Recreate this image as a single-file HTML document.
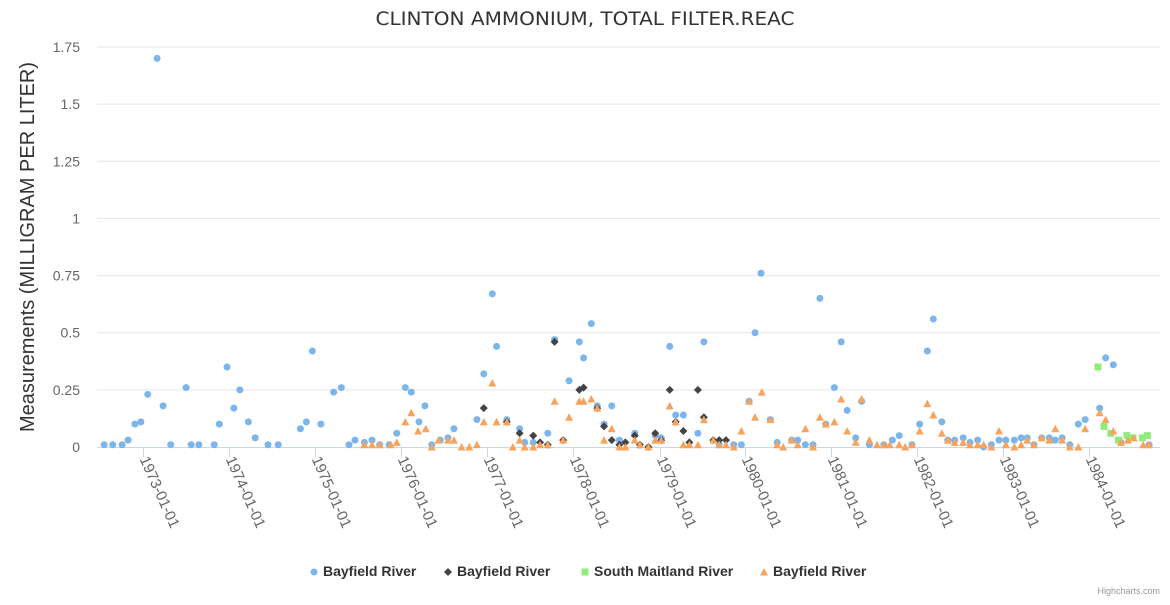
<!DOCTYPE html>
<html><head><meta charset="utf-8"><style>
body{margin:0;background:#fff;font-family:"Liberation Sans",sans-serif}
</style></head><body>
<svg id="c" width="1170" height="600" xmlns="http://www.w3.org/2000/svg" style="font-family:'Liberation Sans',sans-serif">
<text x="585" y="25" text-anchor="middle" font-size="19" fill="#333" textLength="419" lengthAdjust="spacingAndGlyphs" style="font-family:'DejaVu Sans',sans-serif">CLINTON AMMONIUM, TOTAL FILTER.REAC</text>
<text transform="translate(34,247) rotate(-90)" text-anchor="middle" font-size="20" fill="#333">Measurements (MILLIGRAM PER LITER)</text>
<g id="grid"></g>
<g id="xaxis"></g>
<g id="marks"></g>
<g id="legend"></g>
<text x="1160" y="594" text-anchor="end" font-size="9" fill="#999">Highcharts.com</text>
</svg>
<script>
const yTicks=[0,0.25,0.5,0.75,1,1.25,1.5,1.75];
const yTickLabels=["0","0.25","0.5","0.75","1","1.25","1.5","1.75"];
const xTickYears=[1972.96,1973.97,1974.98,1975.99,1977.00,1978.01,1979.02,1980.02,1981.03,1982.04,1983.05,1984.06];
const xTickLabels=["1973-01-01","1974-01-01","1975-01-01","1976-01-01","1977-01-01","1978-01-01","1979-01-01","1980-01-01","1981-01-01","1982-01-01","1983-01-01","1984-01-01"];
const blueYears=[1972.51,1972.61,1972.72,1972.79,1972.87,1972.94,1973.02,1973.13,1973.20,1973.29,1973.47,1973.53,1973.62,1973.80,1973.86,1973.95,1974.03,1974.10,1974.20,1974.28,1974.43,1974.55,1974.81,1974.88,1974.95,1975.05,1975.20,1975.29,1975.38,1975.45,1975.56,1975.65,1975.74,1975.85,1975.94,1976.04,1976.11,1976.20,1976.27,1976.35,1976.45,1976.54,1976.61,1976.88,1976.96,1977.06,1977.11,1977.23,1977.38,1977.44,1977.54,1977.71,1977.79,1977.96,1978.08,1978.13,1978.22,1978.29,1978.37,1978.46,1978.55,1978.73,1978.97,1979.04,1979.14,1979.21,1979.30,1979.47,1979.54,1979.72,1979.89,1979.98,1980.07,1980.14,1980.21,1980.32,1980.40,1980.57,1980.64,1980.73,1980.82,1980.90,1980.97,1981.07,1981.15,1981.22,1981.32,1981.39,1981.48,1981.65,1981.75,1981.83,1981.98,1982.07,1982.16,1982.23,1982.33,1982.40,1982.48,1982.58,1982.66,1982.75,1982.82,1982.91,1983.00,1983.08,1983.18,1983.26,1983.33,1983.41,1983.50,1983.59,1983.66,1983.74,1983.83,1983.93,1984.01,1984.18,1984.25,1984.34,1984.43,1984.76];
const blueValues=[0.01,0.01,0.01,0.03,0.10,0.11,0.23,1.70,0.18,0.01,0.26,0.01,0.01,0.01,0.10,0.35,0.17,0.25,0.11,0.04,0.01,0.01,0.08,0.11,0.42,0.10,0.24,0.26,0.01,0.03,0.02,0.03,0.01,0.01,0.06,0.26,0.24,0.11,0.18,0.01,0.03,0.04,0.08,0.12,0.32,0.67,0.44,0.12,0.08,0.02,0.02,0.06,0.47,0.29,0.46,0.39,0.54,0.18,0.10,0.18,0.03,0.06,0.05,0.04,0.44,0.14,0.14,0.06,0.46,0.01,0.01,0.01,0.20,0.50,0.76,0.12,0.02,0.03,0.03,0.01,0.01,0.65,0.10,0.26,0.46,0.16,0.04,0.20,0.01,0.01,0.03,0.05,0.01,0.10,0.42,0.56,0.11,0.03,0.03,0.04,0.02,0.03,0.00,0.01,0.03,0.03,0.03,0.04,0.04,0.01,0.04,0.04,0.03,0.04,0.01,0.10,0.12,0.17,0.39,0.36,0.02,0.01];
const darkYears=[1976.96,1977.23,1977.38,1977.54,1977.62,1977.71,1977.79,1977.89,1978.08,1978.13,1978.29,1978.37,1978.46,1978.55,1978.62,1978.73,1978.79,1978.89,1978.97,1979.04,1979.14,1979.21,1979.30,1979.37,1979.47,1979.54,1979.65,1979.72,1979.80];
const darkValues=[0.17,0.11,0.06,0.05,0.02,0.01,0.46,0.03,0.25,0.26,0.17,0.09,0.03,0.01,0.02,0.05,0.01,0.00,0.06,0.03,0.25,0.11,0.07,0.02,0.25,0.13,0.03,0.03,0.03];
const greenYears=[1984.16,1984.23,1984.31,1984.40,1984.50,1984.57,1984.68,1984.74];
const greenValues=[0.35,0.09,0.06,0.03,0.05,0.04,0.04,0.05];
const orangeYears=[1975.56,1975.65,1975.74,1975.87,1975.94,1976.04,1976.11,1976.19,1976.28,1976.35,1976.43,1976.54,1976.61,1976.70,1976.79,1976.88,1976.96,1977.06,1977.11,1977.23,1977.30,1977.38,1977.44,1977.54,1977.62,1977.71,1977.79,1977.89,1977.96,1978.08,1978.13,1978.22,1978.29,1978.37,1978.46,1978.55,1978.62,1978.73,1978.79,1978.89,1978.97,1979.04,1979.14,1979.21,1979.30,1979.37,1979.47,1979.54,1979.65,1979.72,1979.80,1979.89,1979.98,1980.07,1980.14,1980.22,1980.32,1980.40,1980.47,1980.57,1980.64,1980.73,1980.82,1980.90,1980.97,1981.07,1981.15,1981.22,1981.32,1981.39,1981.48,1981.57,1981.65,1981.72,1981.83,1981.90,1981.98,1982.07,1982.16,1982.23,1982.33,1982.40,1982.48,1982.58,1982.66,1982.75,1982.82,1982.91,1983.00,1983.08,1983.18,1983.26,1983.33,1983.41,1983.50,1983.59,1983.66,1983.74,1983.83,1983.93,1984.01,1984.18,1984.25,1984.34,1984.43,1984.51,1984.58,1984.69,1984.76];
const orangeValues=[0.01,0.01,0.01,0.01,0.02,0.11,0.15,0.07,0.08,0.00,0.03,0.03,0.03,0.00,0.00,0.01,0.11,0.28,0.11,0.11,0.00,0.03,0.00,0.00,0.01,0.01,0.20,0.03,0.13,0.20,0.20,0.21,0.17,0.03,0.08,0.00,0.00,0.03,0.01,0.00,0.03,0.03,0.18,0.11,0.01,0.01,0.01,0.12,0.03,0.01,0.01,0.00,0.07,0.20,0.13,0.24,0.12,0.01,0.00,0.03,0.01,0.08,0.00,0.13,0.10,0.11,0.21,0.07,0.02,0.21,0.03,0.01,0.01,0.01,0.01,0.00,0.01,0.07,0.19,0.14,0.06,0.03,0.02,0.02,0.01,0.01,0.01,0.00,0.07,0.01,0.00,0.01,0.03,0.01,0.04,0.03,0.08,0.03,0.00,0.00,0.08,0.15,0.12,0.07,0.02,0.03,0.04,0.01,0.01];

const NS="http://www.w3.org/2000/svg";
const L=97,R=1160,T=47,B=447;
const xS=y=>146+(y-1973)*85.3;
const yS=v=>B-(v/1.75)*(B-T);
function mk(tag,parent,attrs){const e=document.createElementNS(NS,tag);for(const k in attrs)e.setAttribute(k,attrs[k]);parent.appendChild(e);return e;}
const grid=document.getElementById('grid'),xa=document.getElementById('xaxis'),marks=document.getElementById('marks'),leg=document.getElementById('legend');
yTicks.forEach((v,i)=>{
  if(v>0){const l=mk('line',grid,{x1:L,x2:R,y1:yS(v),y2:yS(v),stroke:'#e6e6e6'});
  
  }
  const t=mk('text',grid,{x:80,y:yS(v)+5,'text-anchor':'end','font-size':14,fill:'#666'});
  t.textContent=yTickLabels[i];
  
  
});
const ax=mk('line',xa,{x1:L,x2:R,y1:B+0.5,y2:B+0.5,stroke:'#ccd6eb'});


xTickYears.forEach((yr,i)=>{
  const x=Math.round(xS(yr))+0.5;
  const tk=mk('line',xa,{x1:x,x2:x,y1:B,y2:B+10,stroke:'#ccd6eb'});
  
  
  const t=mk('text',xa,{transform:`translate(${x-4},${459}) rotate(66)`,'font-size':15,fill:'#666'});
  t.textContent=xTickLabels[i];
  
  
});
function circle(g,x,y,c){const e=mk('circle',g,{cx:x,cy:y,r:3.5,fill:c});return e;}
function diamond(g,x,y,c){return mk('path',g,{d:`M${x} ${y-4}L${x+4} ${y}L${x} ${y+4}L${x-4} ${y}Z`,fill:c});}
function square(g,x,y,c){return mk('rect',g,{x:x-3.5,y:y-3.5,width:7,height:7,fill:c});}
function tri(g,x,y,c){return mk('path',g,{d:`M${x} ${y-4}L${x+4} ${y+3.5}L${x-4} ${y+3.5}Z`,fill:c});}
const series=[
 {name:'Bayfield River',xs:blueYears,vs:blueValues,c:'#7cb5ec',f:circle,id:'series-bayfield-circle'},
 {name:'Bayfield River',xs:darkYears,vs:darkValues,c:'#434348',f:diamond,id:'series-bayfield-diamond'},
 {name:'South Maitland River',xs:greenYears,vs:greenValues,c:'#90ed7d',f:square,id:'series-south-maitland'},
 {name:'Bayfield River',xs:orangeYears,vs:orangeValues,c:'#f7a35c',f:tri,id:'series-bayfield-triangle'}
];
series.forEach(s=>{
  const g=mk('g',marks,{});
  
  
  s.xs.forEach((yr,i)=>{
    const e=s.f(g,xS(yr),yS(s.vs[i]),s.c);
    
    
  });
});
const legX=[314,448,585,764];
series.forEach((s,i)=>{
  const g=mk('g',leg,{});
  
  
  s.f(g,legX[i],572,s.c);
  const t=mk('text',g,{x:legX[i]+9,y:576,'font-size':14,'font-weight':'bold',fill:'#333'});
  t.textContent=s.name;
});
</script>
</body></html>
